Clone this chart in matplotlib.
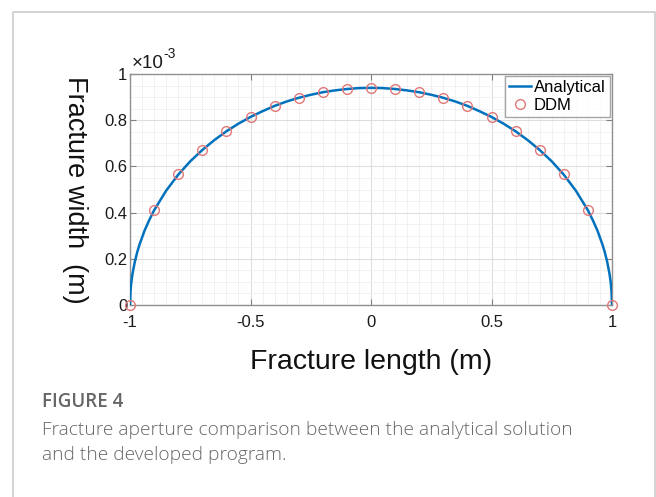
import numpy as np
import matplotlib
matplotlib.use("Agg")
import matplotlib.pyplot as plt
from matplotlib.patches import Rectangle
from matplotlib.ticker import MultipleLocator

# ---- data (fracture width in units of 1e-3 m) ----
x_ddm = [-1.0, -0.9, -0.8, -0.7, -0.6, -0.5, -0.4, -0.3, -0.2, -0.1, 0.0,
         0.1, 0.2, 0.3, 0.4, 0.5, 0.6, 0.7, 0.8, 0.9, 1.0]
w_ddm = [0.0, 0.41, 0.565, 0.67, 0.752, 0.815, 0.862, 0.897, 0.921, 0.935, 0.94,
         0.935, 0.921, 0.897, 0.862, 0.815, 0.752, 0.67, 0.565, 0.41, 0.0]

x_ana = [-1.0, -0.998, -0.995, -0.99, -0.98, -0.97, -0.96, -0.94, -0.92, -0.9,
         -0.85, -0.8, -0.75, -0.7, -0.65, -0.6, -0.55, -0.5, -0.45, -0.4,
         -0.35, -0.3, -0.25, -0.2, -0.15, -0.1, -0.05, 0.0,
         0.05, 0.1, 0.15, 0.2, 0.25, 0.3, 0.35, 0.4, 0.45, 0.5, 0.55, 0.6,
         0.65, 0.7, 0.75, 0.8, 0.85, 0.9, 0.92, 0.94, 0.96, 0.97, 0.98,
         0.99, 0.995, 0.998, 1.0]
w_ana = [0.0, 0.059, 0.094, 0.133, 0.187, 0.229, 0.263, 0.321, 0.368, 0.410,
         0.495, 0.564, 0.622, 0.671, 0.714, 0.752, 0.785, 0.814, 0.839, 0.862,
         0.881, 0.897, 0.910, 0.921, 0.929, 0.935, 0.939, 0.940,
         0.939, 0.935, 0.929, 0.921, 0.910, 0.897, 0.881, 0.862, 0.839, 0.814,
         0.785, 0.752, 0.714, 0.671, 0.622, 0.564, 0.495, 0.410, 0.368, 0.321,
         0.263, 0.229, 0.187, 0.133, 0.094, 0.059, 0.0]

scale = 1e-3
x_ticks = [-1, -0.5, 0, 0.5, 1]
x_ticklabels = ["-1", "-0.5", "0", "0.5", "1"]
y_ticks = [0, 0.2, 0.4, 0.6, 0.8, 1.0]
y_ticklabels = ["0", "0.2", "0.4", "0.6", "0.8", "1"]

plt.rcParams['font.family'] = ['Liberation Sans', 'DejaVu Sans']

W, H = 656, 497
fig = plt.figure(figsize=(W / 100, H / 100), dpi=100)

# outer frame
fig.add_artist(Rectangle((13 / W, -0.05), (655 - 13) / W, 1.05 - 12 / H,
                         transform=fig.transFigure, fill=False,
                         edgecolor='#cccccc', linewidth=1.2))

ax = fig.add_axes([130 / W, 1 - 305 / H, (612 - 130) / W, (305 - 74) / H])

ax.plot(np.array(x_ana), np.array(w_ana) * scale, color='#0072BD', lw=1.8,
        label='Analytical', zorder=3)
ax.plot(np.array(x_ddm), np.array(w_ddm) * scale, linestyle='none', marker='o',
        markersize=7, markerfacecolor='none', markeredgecolor='#E07878',
        markeredgewidth=1.0, label='DDM', zorder=4, clip_on=False)

ax.set_xlim(-1, 1)
ax.set_ylim(0, 1e-3)
ax.set_xticks(x_ticks)
ax.set_xticklabels(x_ticklabels)
ax.set_yticks(np.array(y_ticks) * scale)
ax.set_yticklabels(y_ticklabels)
ax.xaxis.set_minor_locator(MultipleLocator(0.05))
ax.yaxis.set_minor_locator(MultipleLocator(0.05 * scale))
ax.grid(which='major', color='#dedede', lw=0.8)
ax.grid(which='minor', color='#f0f0f0', lw=0.6)
ax.set_axisbelow(True)
ax.tick_params(which='major', direction='in', length=4, width=0.8, color='#808080',
               top=True, right=True, labelsize=12, labelcolor='#1a1a1a')
ax.tick_params(axis='x', which='major', pad=7)
ax.tick_params(axis='y', which='major', pad=2)
ax.tick_params(which='minor', length=0)
for s in ax.spines.values():
    s.set_color('#909090')
    s.set_linewidth(1.0)

ax.text(0.003, 1.008, '\u00d710', transform=ax.transAxes, fontsize=13.5,
        ha='left', va='bottom', color='#1a1a1a')
ax.text(0.07, 1.055, '-3', transform=ax.transAxes, fontsize=10,
        ha='left', va='bottom', color='#1a1a1a')

ax.set_xlabel('Fracture length (m)', fontsize=20.5, color='#111111', labelpad=14)
ax.set_ylabel('Fracture width  (m)', fontsize=19.5, color='#111111', rotation=270,
              labelpad=30, va='bottom')

leg = ax.legend(loc='upper right', fontsize=12, frameon=True, fancybox=False,
                borderpad=0.25, handlelength=1.3, handletextpad=0.2,
                labelspacing=0.15, borderaxespad=0.12)
leg.get_frame().set_edgecolor('#909090')
leg.get_frame().set_linewidth(1.0)

fig.text(42 / W, 1 - 402 / H, 'FIGURE 4', fontsize=13.5, fontweight='semibold',
         family=['Open Sans', 'DejaVu Sans'], color='#666666', va='center')
fig.text(42 / W, 1 - 430 / H,
         'Fracture aperture comparison between the analytical solution',
         fontsize=13.8, family=['Open Sans', 'DejaVu Sans'], color='#666666',
         va='center', fontweight='light')
fig.text(42 / W, 1 - 455 / H, 'and the developed program.',
         fontsize=13.8, family=['Open Sans', 'DejaVu Sans'], color='#666666',
         va='center', fontweight='light')

fig.savefig('out.png', dpi=100)
